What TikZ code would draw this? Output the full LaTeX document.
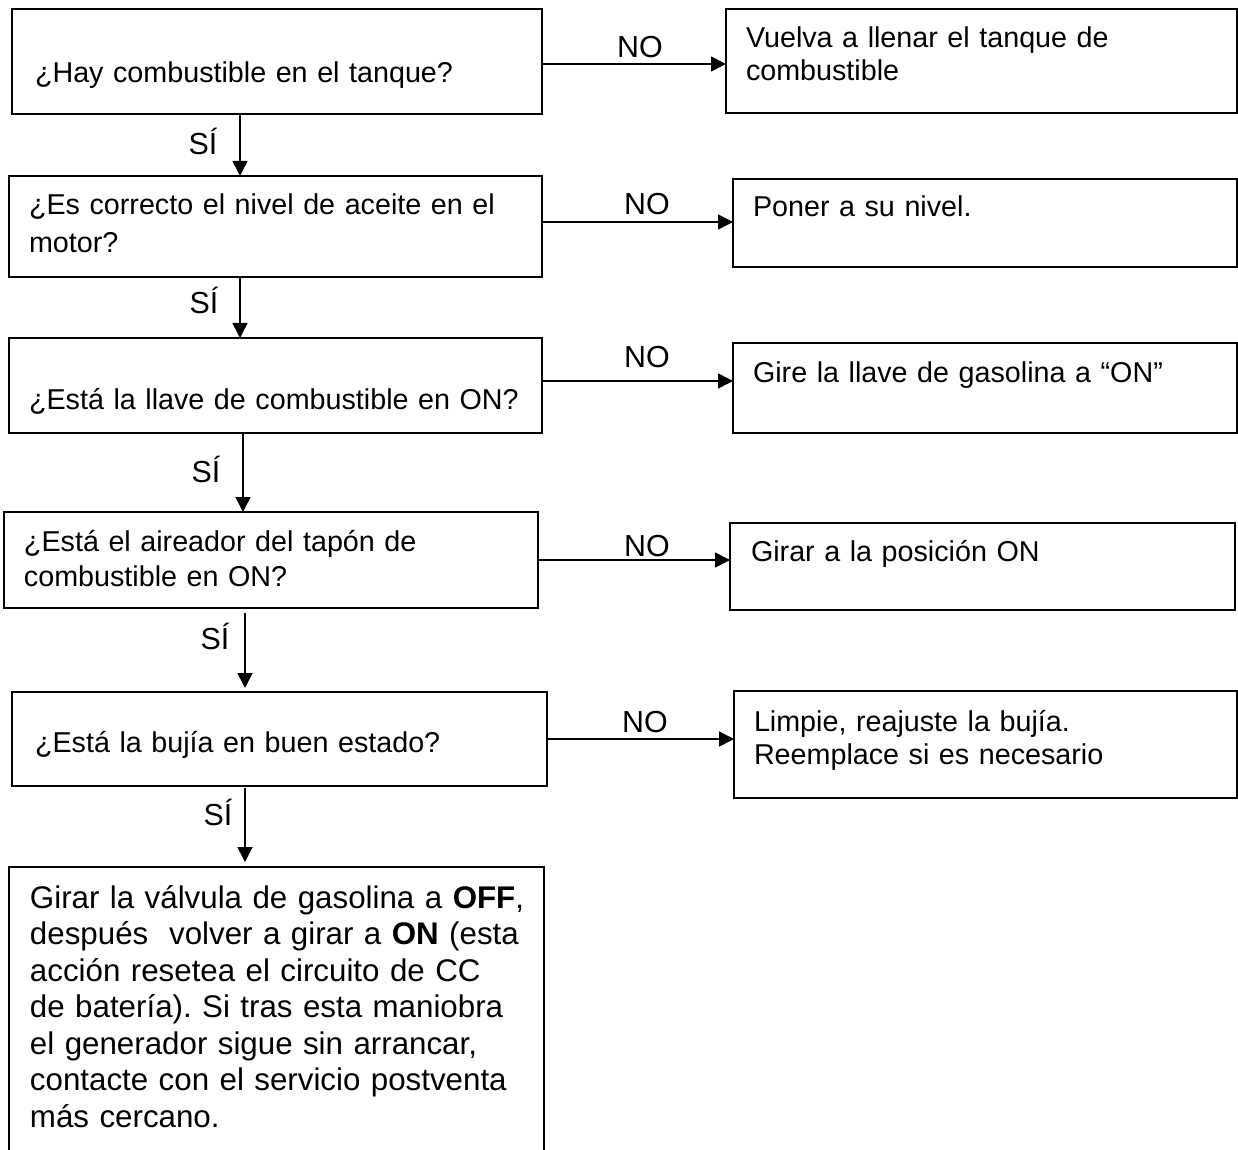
\documentclass[tikz,border=0pt]{standalone}
\usepackage{fontspec}
\setmainfont{Liberation Sans}
\usetikzlibrary{arrows.meta,fit}
\frenchspacing
\begin{document}
\begin{tikzpicture}[x=0.5pt,y=-0.5pt,
  box/.style={draw,line width=1pt,inner sep=0pt,outer sep=0pt},
  frame/.style={inner sep=0pt,outer sep=0pt},
  txt/.style={anchor=base west,inner sep=0pt,outer sep=0pt,text width=#1,align=left},
  fs/.style={font=\fontsize{14.35}{#1}\selectfont},
  lbl/.style={anchor=base,inner sep=0pt,font=\fontsize{15.2}{19}\selectfont},
  arr/.style={-{Triangle[length=7.5pt,width=7.5pt]},line width=0.8pt}
]
\useasboundingbox (0,0) rectangle (1238,1150);

% left boxes
\node[box,fit={(12,9) (542,114)}] (q1) {};
\node[box,fit={(9,176) (542,277)}] (q2) {};
\node[box,fit={(9,338) (542,433)}] (q3) {};
\node[box,fit={(4,512) (538,608)}] (q4) {};
\node[box,fit={(12,692) (547,786)}] (q5) {};
\node[frame,fit={(9,867) (544,1150)}] (q6) {};
\draw[line width=1pt] (q6.south west) -- (q6.north west) -- (q6.north east) -- (q6.south east);

% right boxes
\node[box,fit={(726,9) (1237,113)}] (a1) {};
\node[box,fit={(733,179) (1237,267)}] (a2) {};
\node[box,fit={(733,343) (1237,433)}] (a3) {};
\node[box,fit={(730,523) (1235,610)}] (a4) {};
\node[box,fit={(734,691) (1237,798)}] (a5) {};

% texts
\node[txt=255pt,fs=19pt] (tq1) at (35,83) {¿Hay combustible en el tanque?};
\node[txt=255pt,fs=19pt] (tq2) at (29,215) {¿Es correcto el nivel de aceite en el\\motor?};
\node[txt=255pt,fs=19pt] (tq3) at (29,409) {¿Está la llave de combustible en ON?};
\node[txt=255pt,fs=17.5pt] (tq4) at (24,551) {¿Está el aireador del tapón de\\combustible en ON?};
\node[txt=255pt,fs=19pt] (tq5) at (35,752) {¿Está la bujía en buen estado?};
\node[txt=255pt,font=\fontsize{15.65}{18.25}\selectfont] (tq6) at (30,908)
  {Girar la válvula de gasolina a \textbf{OFF},\\
   después~ volver a girar a \textbf{ON} (esta\\
   acción resetea el circuito de CC\\
   de batería). Si tras esta maniobra\\
   el generador sigue sin arrancar,\\
   contacte con el servicio postventa\\
   más cercano.};

\node[txt=240pt,fs=16.5pt] (ta1) at (746,48) {Vuelva a llenar el tanque de\\combustible};
\node[txt=240pt,fs=19pt] (ta2) at (753,217) {Poner a su nivel.};
\node[txt=240pt,fs=19pt] (ta3) at (753,383) {Gire la llave de gasolina a “ON”};
\node[txt=240pt,fs=19pt] (ta4) at (751,561) {Girar a la posición ON};
\node[txt=240pt,fs=16.5pt] (ta5) at (754,731) {Limpie, reajuste la bujía.\\Reemplace si es necesario};

% NO arrows
\draw[arr] ([yshift=-1.25pt]q1.east) -- ([yshift=-1.25pt]q1.east -| a1.west);
\draw[arr] ([yshift=2.25pt]q2.east) -- ([yshift=2.25pt]q2.east -| a2.west);
\draw[arr] ([yshift=2.25pt]q3.east) -- ([yshift=2.25pt]q3.east -| a3.west);
\draw[arr] (q4.east) -- (q4.east -| a4.west);
\draw[arr] (q5.east) -- (q5.east -| a5.west);
\node[lbl] (n1) at (640,58) {NO};
\node[lbl] (n2) at (647,215) {NO};
\node[lbl] (n3) at (647,368) {NO};
\node[lbl] (n4) at (647,556) {NO};
\node[lbl] (n5) at (645,732) {NO};

% SI arrows
\draw[arr] (240,0 |- q1.south) -- (240,0 |- q2.north);
\draw[arr] (240,0 |- q2.south) -- (240,0 |- q3.north);
\draw[arr] (243,0 |- q3.south) -- (243,0 |- q4.north);
\draw[arr,shorten <=2.5pt,shorten >=2pt] (245,0 |- q4.south) -- (245,0 |- q5.north);
\draw[arr,shorten <=1pt,shorten >=2.5pt] (245,0 |- q5.south) -- (245,0 |- q6.north);
\node[lbl] (s1) at (203,155) {SÍ};
\node[lbl] (s2) at (204,314) {SÍ};
\node[lbl] (s3) at (206,482) {SÍ};
\node[lbl] (s4) at (215,649) {SÍ};
\node[lbl] (s5) at (218,825) {SÍ};
\end{tikzpicture}
\end{document}
